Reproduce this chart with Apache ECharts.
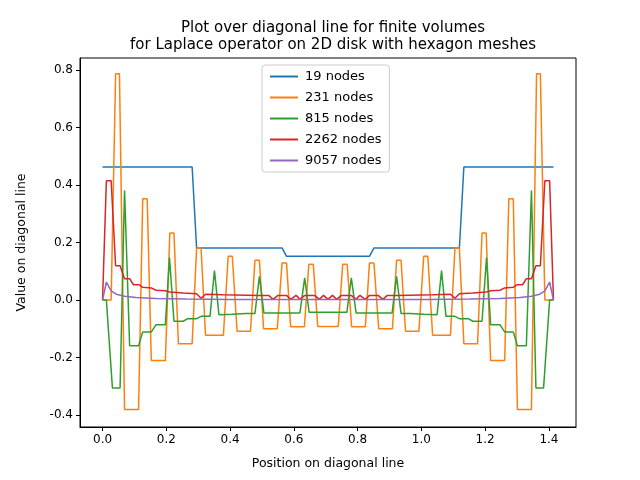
<!DOCTYPE html>
<html>
<head>
<meta charset="utf-8">
<script src="https://cdn.jsdelivr.net/npm/echarts@6/dist/echarts.min.js"></script>
<style>html,body{margin:0;padding:0;background:#fff}#chart{width:640px;height:480px}</style>
</head>
<body>
<div id="chart"></div>
<script>
// diagonal length (sqrt 2); the profiles are symmetric about its middle
var L = 1.4142;
var names = ['19 nodes', '231 nodes', '815 nodes', '2262 nodes', '9057 nodes'];
var colors = ['#1f77b4', '#ff7f0e', '#2ca02c', '#d62728', '#9467bd'];
var xTicks = [0.0, 0.2, 0.4, 0.6, 0.8, 1.0, 1.2, 1.4];
var yTicks = [-0.4, -0.2, 0.0, 0.2, 0.4, 0.6, 0.8];

// left half of each profile: [position, value]
var n19 = [[0, 0.463], [0.281, 0.463], [0.295, 0.181], [0.563, 0.181], [0.577, 0.152], [0.707, 0.152]];
var n231 = [[0, 0], [0.027, 0], [0.041, 0.787], [0.053, 0.787], [0.069, -0.381], [0.113, -0.381],
  [0.126, 0.352], [0.14, 0.352], [0.153, -0.211], [0.197, -0.211], [0.211, 0.233], [0.224, 0.233],
  [0.238, -0.152], [0.281, -0.152], [0.295, 0.181], [0.309, 0.181], [0.323, -0.123], [0.379, -0.123],
  [0.394, 0.152], [0.407, 0.152], [0.422, -0.109], [0.464, -0.109], [0.478, 0.138], [0.492, 0.138],
  [0.505, -0.1], [0.548, -0.1], [0.563, 0.129], [0.577, 0.129], [0.59, -0.093], [0.633, -0.093],
  [0.647, 0.124], [0.661, 0.124], [0.675, -0.092], [0.707, -0.092]];
var n815 = [[0, 0], [0.012, 0], [0.031, -0.306], [0.055, -0.306], [0.069, 0.381], [0.085, -0.159],
  [0.113, -0.159], [0.126, -0.111], [0.153, -0.111], [0.168, -0.086], [0.197, -0.086], [0.21, 0.148],
  [0.224, -0.074], [0.253, -0.074], [0.267, -0.065], [0.295, -0.065], [0.309, -0.057], [0.337, -0.057],
  [0.351, 0.102], [0.365, -0.051], [0.407, -0.05], [0.45, -0.047], [0.478, -0.047], [0.492, 0.082],
  [0.506, -0.045], [0.619, -0.045], [0.634, 0.077], [0.648, -0.043], [0.707, -0.043]];
var n2262 = [[0, 0], [0.012, 0.415], [0.027, 0.415], [0.041, 0.119], [0.055, 0.119], [0.069, 0.074],
  [0.085, 0.074], [0.097, 0.053], [0.115, 0.053], [0.126, 0.044], [0.153, 0.042], [0.168, 0.034],
  [0.197, 0.032], [0.21, 0.028], [0.253, 0.024], [0.295, 0.022], [0.309, 0.006], [0.323, 0.02],
  [0.379, 0.018], [0.492, 0.016], [0.521, 0.016], [0.535, 0.002], [0.55, 0.016], [0.577, 0.016],
  [0.59, 0.002], [0.607, 0.016], [0.62, 0.002], [0.634, 0.016], [0.665, 0.016], [0.68, 0.002],
  [0.693, 0.016], [0.707, 0.002]];
var n9057 = [[0, 0], [0.012, 0.062], [0.027, 0.032], [0.043, 0.02], [0.069, 0.013], [0.105, 0.009],
  [0.168, 0.005], [0.262, 0.003], [0.4, 0.002], [0.707, 0.002]];

function mirror(half) {
  var right = half.slice(0, -1).reverse().map(function (p) { return [+(L - p[0]).toFixed(4), p[1]]; });
  return half.concat(right);
}

var halves = [n19, n231, n815, n2262, n9057];
var series = halves.map(function (h, i) {
  return {
    name: names[i], type: 'line', data: mirror(h), showSymbol: false, symbol: 'none',
    lineStyle: { width: 1.5, color: colors[i] }, itemStyle: { color: colors[i] }, animation: false
  };
});

var chart = echarts.init(document.getElementById('chart'));
var font = 'DejaVu Sans';
chart.setOption({
  backgroundColor: '#fff',
  title: {
    text: 'Plot over diagonal line for finite volumes\nfor Laplace operator on 2D disk with hexagon meshes',
    left: 328, top: 15, textAlign: 'center',
    textStyle: { fontFamily: font, fontSize: 15, fontWeight: 'normal', color: '#000', lineHeight: 17 }
  },
  legend: {
    orient: 'vertical', left: 262, top: 65, padding: [5, 8, 5, 8], itemGap: 8,
    icon: 'rect', itemWidth: 28, itemHeight: 2, borderColor: '#ccc', borderWidth: 1, borderRadius: 3,
    textStyle: { fontFamily: font, fontSize: 13, color: '#000', padding: [0, 0, 0, 2] }, data: names
  },
  grid: { left: 80, right: 64, top: 58, bottom: 53, containLabel: false, show: false },
  xAxis: {
    type: 'value', min: -0.0707, max: 1.4849,
    name: 'Position on diagonal line', nameLocation: 'middle', nameGap: 30,
    nameTextStyle: { fontFamily: font, fontSize: 12.5, color: '#000' },
    axisLine: { onZero: false, lineStyle: { color: '#000', width: 1 } },
    axisTick: { show: true, customValues: xTicks, length: 4, inside: false, lineStyle: { color: '#000' } },
    axisLabel: { customValues: xTicks, fontFamily: font, fontSize: 12, color: '#000', margin: 7,
      formatter: function (v) { return v.toFixed(1); } },
    splitLine: { show: false }
  },
  yAxis: {
    type: 'value', min: -0.442, max: 0.842,
    name: 'Value on diagonal line', nameLocation: 'middle', nameGap: 52, nameRotate: 90,
    nameTextStyle: { fontFamily: font, fontSize: 12.5, color: '#000' },
    axisLine: { show: true, onZero: false, lineStyle: { color: '#000', width: 1 } },
    axisTick: { show: true, customValues: yTicks, length: 4, lineStyle: { color: '#000' } },
    axisLabel: { customValues: yTicks, fontFamily: font, fontSize: 12, color: '#000', margin: 7,
      formatter: function (v) { return v.toFixed(1); } },
    splitLine: { show: false }
  },
  graphic: [{ type: 'rect', shape: { x: 80, y: 58, width: 496, height: 369 }, silent: true, z: 100,
    style: { fill: 'none', stroke: '#000', lineWidth: 1 } }],
  series: series
});
</script>
</body>
</html>
